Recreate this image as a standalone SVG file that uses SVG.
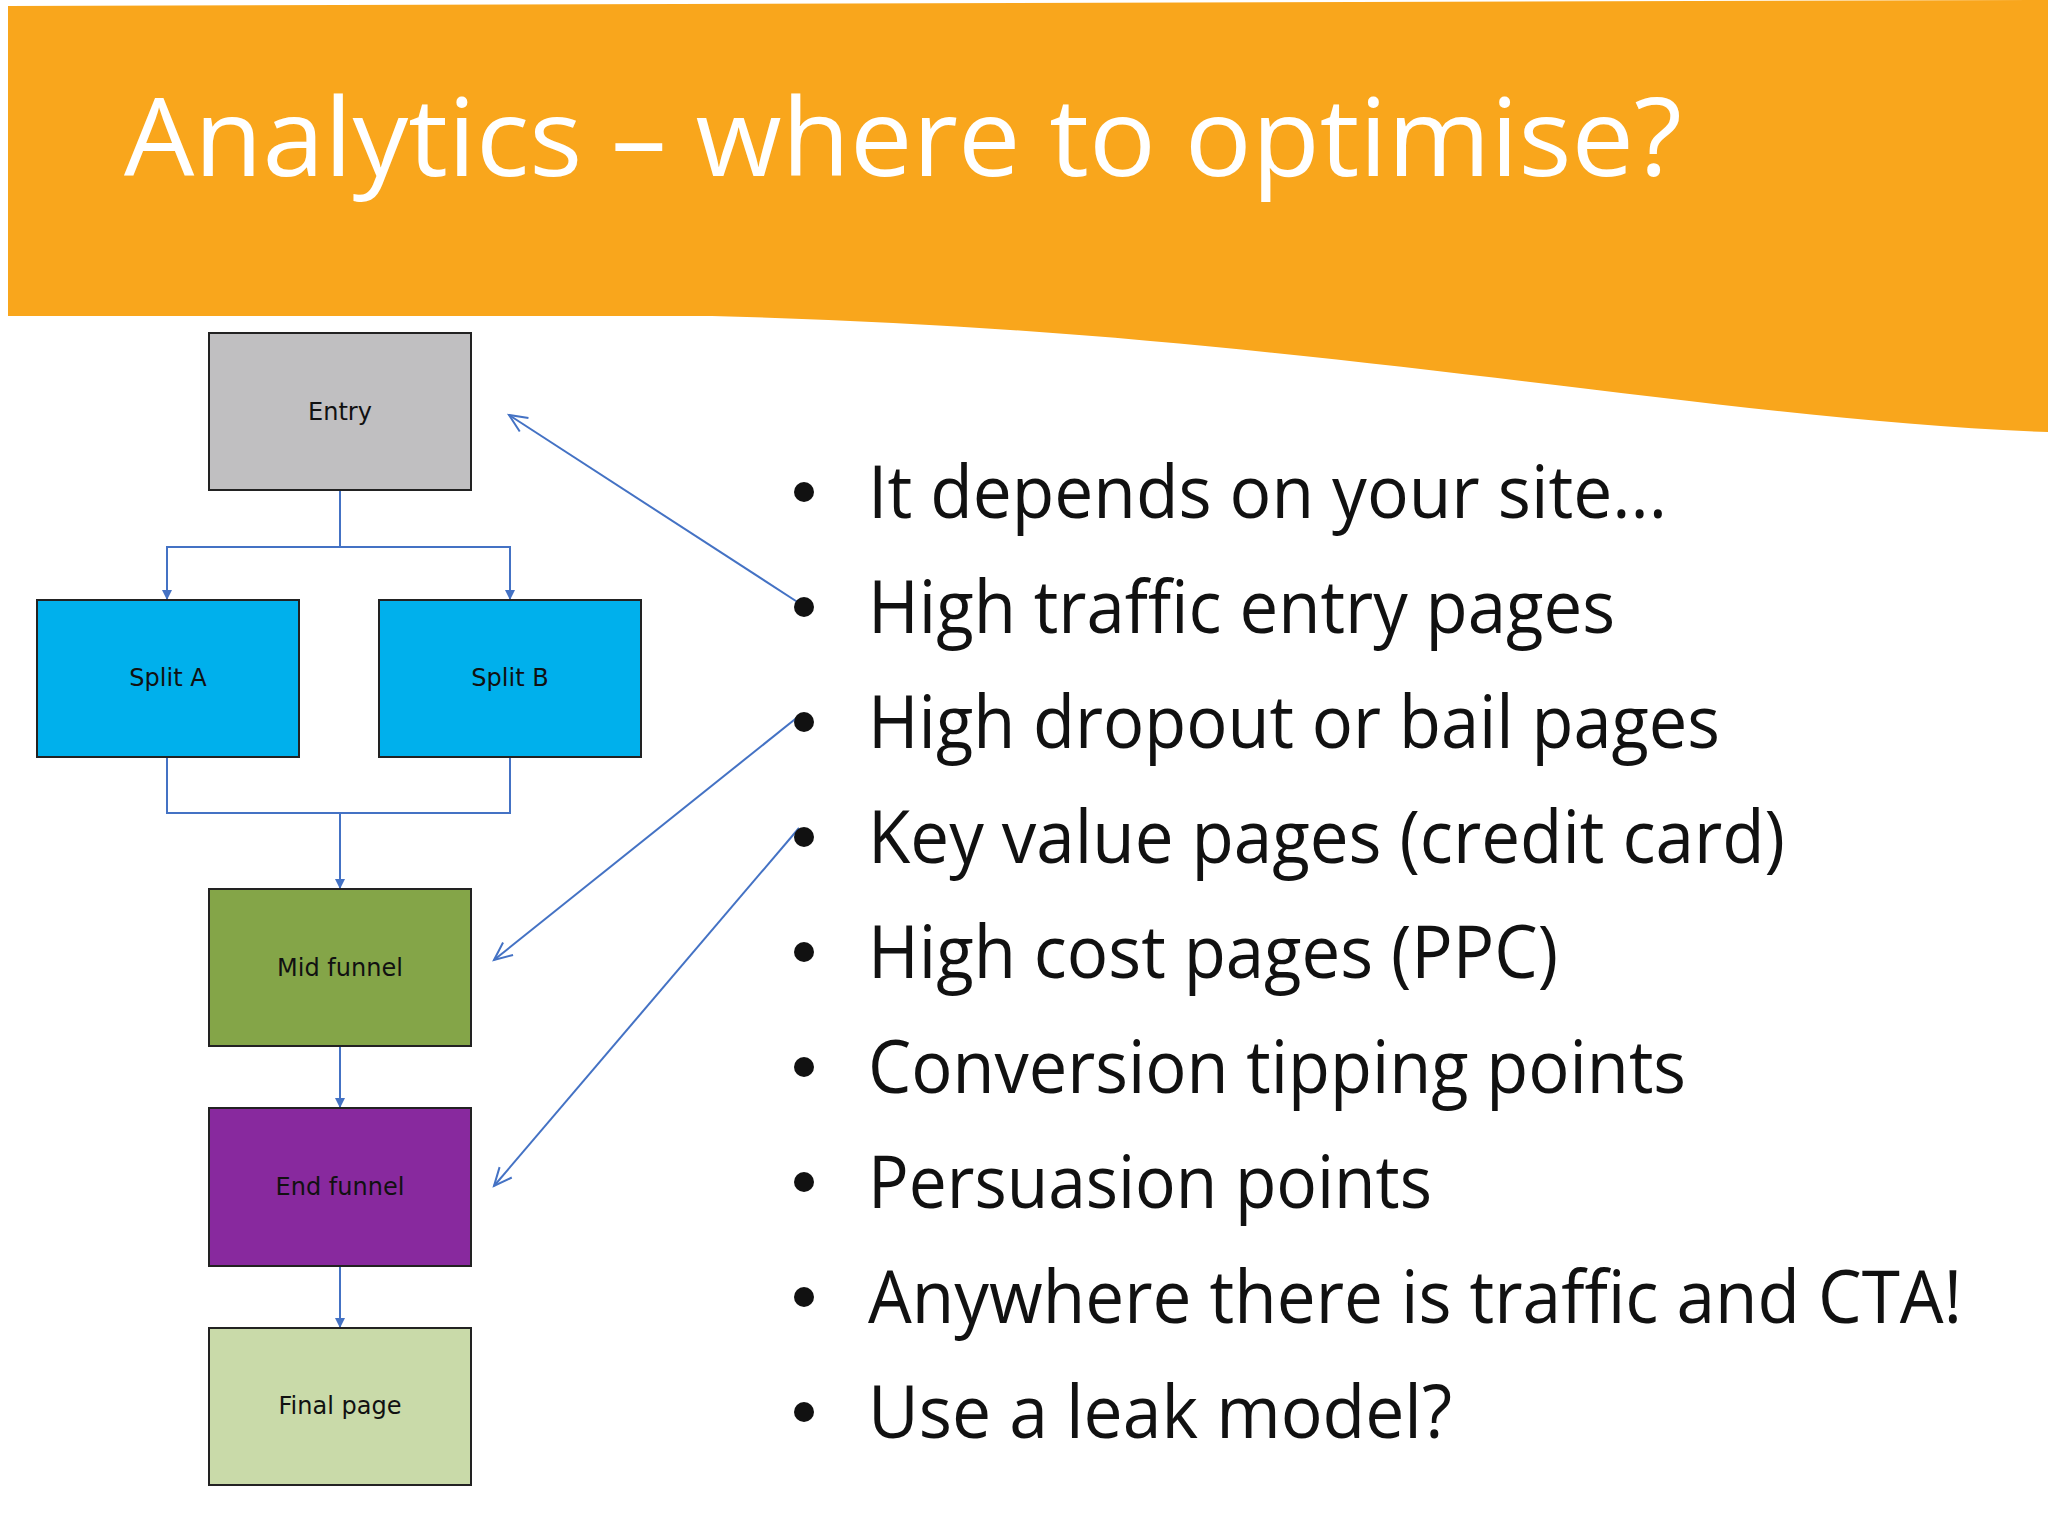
<svg xmlns="http://www.w3.org/2000/svg" width="2048" height="1536" viewBox="0 0 2048 1536">
<style>
.box{stroke:#222;stroke-width:2}
.bt{font-family:"DejaVu Sans",sans-serif;font-size:24px;fill:#111;text-anchor:middle}
.c{fill:none;stroke:#4472C4;stroke-width:2}
.bl{font-family:"Open Sans","Noto Sans",sans-serif;font-size:74px;fill:#111}
</style>
<defs>
<marker id="ah" markerWidth="12" markerHeight="12" refX="10" refY="5" orient="auto" markerUnits="userSpaceOnUse"><path d="M0,0 L10,5 L0,10 Z" fill="#4472C4"/></marker>
<marker id="oh" markerWidth="24" markerHeight="24" refX="20" refY="10" orient="auto" markerUnits="userSpaceOnUse"><path d="M2,2 L20,10 L2,18" fill="none" stroke="#4472C4" stroke-width="2"/></marker>
</defs>
<rect width="2048" height="1536" fill="#fff"/>
<path d="M8,6 L2048,0 L2048,432 C1700,420 1300,330 712,316 L8,316 Z" fill="#F9A61C"/>
<text x="124" y="176" font-family="'Open Sans',sans-serif" font-size="108" fill="#fff" textLength="1558" lengthAdjust="spacingAndGlyphs">Analytics – where to optimise?</text>
<g id="connectors">
<path class="c" d="M340,490 V547 H167 V600" marker-end="url(#ah)"/>
<path class="c" d="M340,547 H510 V600" marker-end="url(#ah)"/>
<path class="c" d="M167,757 V813 H510 V757"/>
<path class="c" d="M340,813 V889" marker-end="url(#ah)"/>
<path class="c" d="M340,1046 V1108" marker-end="url(#ah)"/>
<path class="c" d="M340,1266 V1328" marker-end="url(#ah)"/>
<path class="c" d="M799,603 L509,415" marker-end="url(#oh)"/>
<path class="c" d="M799,716 L494,960" marker-end="url(#oh)"/>
<path class="c" d="M799,828 L494,1186" marker-end="url(#oh)"/>
</g>
<g id="entry"><rect class="box" x="209" y="333" width="262" height="157" fill="#C0BFC1"/><text class="bt" x="340" y="420">Entry</text></g>
<g id="splitA"><rect class="box" x="37" y="600" width="262" height="157" fill="#00B0EC"/><text class="bt" x="168" y="686">Split A</text></g>
<g id="splitB"><rect class="box" x="379" y="600" width="262" height="157" fill="#00B0EC"/><text class="bt" x="510" y="686">Split B</text></g>
<g id="mid"><rect class="box" x="209" y="889" width="262" height="157" fill="#84A548"/><text class="bt" x="340" y="976">Mid funnel</text></g>
<g id="end"><rect class="box" x="209" y="1108" width="262" height="158" fill="#88299E"/><text class="bt" x="340" y="1195">End funnel</text></g>
<g id="final"><rect class="box" x="209" y="1328" width="262" height="157" fill="#C9DAA9"/><text class="bt" x="340" y="1414">Final page</text></g>
<g id="bullets" fill="#111">
<circle cx="804" cy="492" r="10"/><circle cx="804" cy="607" r="10"/><circle cx="804" cy="722" r="10"/><circle cx="804" cy="837" r="10"/><circle cx="804" cy="952" r="10"/><circle cx="804" cy="1067" r="10"/><circle cx="804" cy="1182" r="10"/><circle cx="804" cy="1297" r="10"/><circle cx="804" cy="1412" r="10"/>
<text class="bl" x="868" y="518" textLength="799" lengthAdjust="spacingAndGlyphs">It depends on your site...</text>
<text class="bl" x="868" y="633" textLength="747" lengthAdjust="spacingAndGlyphs">High traffic entry pages</text>
<text class="bl" x="868" y="748" textLength="852" lengthAdjust="spacingAndGlyphs">High dropout or bail pages</text>
<text class="bl" x="868" y="863" textLength="917" lengthAdjust="spacingAndGlyphs">Key value pages (credit card)</text>
<text class="bl" x="868" y="978" textLength="690" lengthAdjust="spacingAndGlyphs">High cost pages (PPC)</text>
<text class="bl" x="868" y="1093" textLength="818" lengthAdjust="spacingAndGlyphs">Conversion tipping points</text>
<text class="bl" x="868" y="1208" textLength="564" lengthAdjust="spacingAndGlyphs">Persuasion points</text>
<text class="bl" x="868" y="1323" textLength="1094" lengthAdjust="spacingAndGlyphs">Anywhere there is traffic and CTA!</text>
<text class="bl" x="868" y="1438" textLength="584" lengthAdjust="spacingAndGlyphs">Use a leak model?</text>
</g>
</svg>
